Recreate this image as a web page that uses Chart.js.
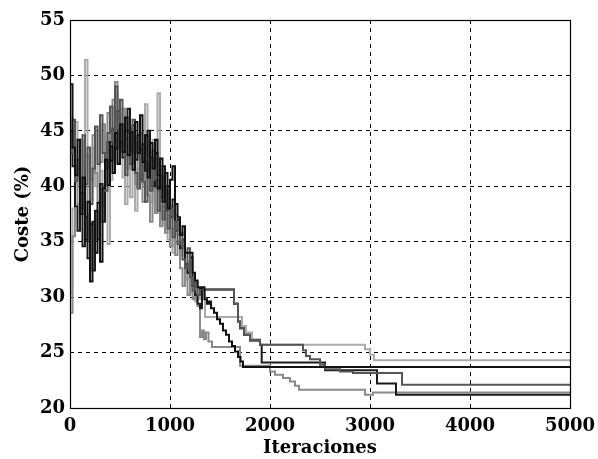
<!DOCTYPE html>
<html>
<head>
<meta charset="utf-8">
<script src="https://cdn.jsdelivr.net/npm/chart.js@4/dist/chart.umd.min.js"></script>
<style>
html,body{margin:0;padding:0;background:#fff;}
canvas{display:block;}
</style>
</head>
<body>
<canvas id="c" width="598" height="459"></canvas>
<script>
// ---- data (iterations / cost %) ----
const xTicks = [0, 1000, 2000, 3000, 4000, 5000];
const yTicks = [20, 25, 30, 35, 40, 45, 50, 55];
const xTitle = "Iteraciones";
const yTitle = "Coste (%)";

// shared iteration grid for the noisy exploration phase
const noiseIter = [0,25,50,75,100,125,150,175,200,225,250,275,300,325,350,375,400,425,450,475,500,525,550,575,600,625,650,675,700,725,750,775,800,825,850,875,900,925,950,975,1000,1025,1050,1075,1100,1125,1150,1175,1200,1225,1250,1275,1300];

const black1Noise = [49.2,43.5,41.0,44.2,37.5,40.8,35.2,38.6,31.4,36.8,34.0,38.5,33.2,39.8,42.4,40.1,43.6,41.2,44.8,42.0,45.6,43.1,46.2,42.8,44.9,41.5,45.8,43.0,46.4,42.2,44.6,40.8,43.9,41.6,44.2,39.8,42.5,38.6,41.2,38.0,40.6,41.8,38.4,37.2,35.6,36.4,34.0,34.0,34.0,32.2,31.5,30.9,30.8];
const black1TailIter = [1320,1345,1370,1390,1410,1440,1470,1500,1530,1560,1590,1620,1650,1680,1705,1730,5000];
const black1TailCost = [30.9,29.8,29.4,29.6,29.0,28.6,28.0,27.6,27.0,26.6,26.0,25.6,25.1,24.6,24.2,23.7,23.7];

const black2Noise = [45.0,41.8,38.2,36.0,39.4,34.6,37.2,33.5,36.6,32.4,37.8,35.2,40.2,36.8,41.6,44.0,42.3,45.2,43.4,46.8,44.0,42.6,45.0,47.0,43.2,45.5,42.4,44.6,40.6,43.8,41.4,45.0,42.6,40.0,43.0,41.0,39.0,41.8,37.8,40.0,37.2,38.8,36.0,37.0,34.4,35.2,33.0,32.2,33.6,31.0,30.2,29.4,29.0];
const black2TailIter = [1320,1640,1680,1700,1740,1800,1900,1917,2550,3070,3260,5000];
const black2TailCost = [30.7,29.4,27.8,27.2,26.6,26.1,25.7,24.1,23.4,22.2,21.2,21.2];

const darkNoise = [43.0,46.0,40.5,42.4,38.0,44.6,40.2,43.5,38.4,41.6,45.4,42.0,46.4,43.0,39.6,44.8,47.2,44.0,49.0,45.2,47.8,44.2,41.0,44.8,42.0,46.0,41.2,39.8,43.4,40.4,38.6,42.0,39.6,43.2,40.6,37.8,40.8,37.0,39.4,36.2,38.0,35.4,36.8,34.8,35.8,33.4,32.6,34.4,31.8,30.6,31.4,30.2,30.7];
const darkTailIter = [1320,1640,1680,1700,1740,1800,1900,2330,2360,2400,2500,2550,2700,2830,3320,5000];
const darkTailCost = [30.7,29.4,27.8,27.2,26.6,26.1,25.7,25.2,24.7,24.4,23.9,23.5,23.3,23.15,22.1,22.1];

const midNoise = [28.6,35.5,41.8,38.4,44.2,40.0,42.8,37.4,40.6,44.6,41.2,38.6,42.2,45.6,43.0,46.6,44.0,47.8,49.4,46.0,43.6,47.0,44.4,41.6,45.2,43.0,40.2,44.0,41.0,38.6,42.2,39.2,36.8,40.4,37.6,39.6,36.4,38.2,35.8,37.4,34.6,36.2,33.8,35.0,32.6,31.0,33.0,30.2,31.6,29.8,30.6,29.2,26.4];
const midTailIter = [1320,1340,1360,1385,1420,1700,2000,2050,2130,2200,2250,2290,2950,3030,5000];
const midTailCost = [27.0,26.2,26.8,26.0,25.5,23.8,23.3,23.0,22.7,22.4,22.0,21.65,21.2,21.4,21.4];

const lightNoise = [30.4,38.0,45.8,40.2,44.0,39.4,51.4,42.6,38.8,43.4,40.0,45.0,41.4,38.2,43.8,34.8,40.6,44.4,48.4,42.2,45.4,40.8,38.4,42.6,39.0,43.8,37.8,41.6,44.8,40.2,47.4,42.8,38.6,44.2,40.0,48.4,41.0,36.6,39.6,35.2,38.2,34.0,37.4,35.6,33.8,35.0,31.6,33.2,30.4,32.0,29.6,30.8,29.8];
const lightTailIter = [1325,1350,1720,1760,1820,1900,2950,3000,3040,5000];
const lightTailCost = [30.6,28.2,27.4,26.8,26.2,25.7,25.3,24.8,24.3,24.3];

function pts(noise, tIter, tCost) {
  const xs = noiseIter.concat(tIter);
  const ys = noise.concat(tCost);
  return xs.map((x, i) => ({x: x, y: ys[i]}));
}

const FONT = {family: "'DejaVu Serif', serif", size: 18, weight: 'bold'};

const framePlugin = {
  id: 'frame',
  afterDraw(chart) {
    const a = chart.chartArea, ctx = chart.ctx;
    ctx.save();
    ctx.strokeStyle = '#000';
    ctx.lineWidth = 1.2;
    ctx.setLineDash([]);
    ctx.strokeRect(a.left + 0.5, a.top + 0.5, a.right - a.left, a.bottom - a.top);
    ctx.restore();
  }
};
const bgPlugin = {
  id: 'bg',
  beforeDraw(chart) {
    const ctx = chart.ctx;
    ctx.save(); ctx.fillStyle = '#fff'; ctx.fillRect(0, 0, chart.width, chart.height); ctx.restore();
  }
};

function ds(data, color, order, w) {
  return {data: data, borderColor: color, borderWidth: w, stepped: true, pointRadius: 0, fill: false, order: order, tension: 0};
}

new Chart(document.getElementById('c'), {
  type: 'line',
  data: {
    datasets: [
      ds(pts(black1Noise, black1TailIter, black1TailCost), '#111111', 0, 2),
      ds(pts(darkNoise, darkTailIter, darkTailCost), '#555555', 1, 2),
      ds(pts(black2Noise, black2TailIter, black2TailCost), '#1a1a1a', 2, 2),
      ds(pts(midNoise, midTailIter, midTailCost), '#8a8a8a', 3, 2),
      ds(pts(lightNoise, lightTailIter, lightTailCost), '#ababab', 4, 2)
    ]
  },
  options: {
    responsive: false,
    devicePixelRatio: 1,
    animation: false,
    layout: {padding: {top: 20, right: 28, left: 0, bottom: 0}},
    plugins: {legend: {display: false}, tooltip: {enabled: false}},
    scales: {
      x: {
        type: 'linear', min: 0, max: 5000,
        afterBuildTicks(s) { s.ticks = xTicks.map(v => ({value: v})); },
        afterFit(s) { s.height = 51; s.paddingLeft = 0; s.paddingRight = 0; },
        ticks: {color: '#000', font: FONT, padding: 8, maxRotation: 0, callback: v => String(v)},
        grid: {color: '#000', lineWidth: 1, drawTicks: false},
        border: {display: false, dash: [4, 4]},
        title: {display: true, text: xTitle, color: '#000', font: FONT, padding: {top: 0, bottom: 0}}
      },
      y: {
        type: 'linear', min: 20, max: 55,
        afterBuildTicks(s) { s.ticks = yTicks.map(v => ({value: v})); },
        afterFit(s) { s.width = 70; s.paddingTop = 0; s.paddingBottom = 0; },
        ticks: {color: '#000', font: FONT, padding: 5, callback: v => String(v)},
        grid: {color: '#000', lineWidth: 1, drawTicks: false},
        border: {display: false, dash: [4, 4]},
        title: {display: true, text: yTitle, color: '#000', font: FONT, padding: {top: 13, bottom: 0}}
      }
    }
  },
  plugins: [bgPlugin, framePlugin]
});
</script>
</body>
</html>
